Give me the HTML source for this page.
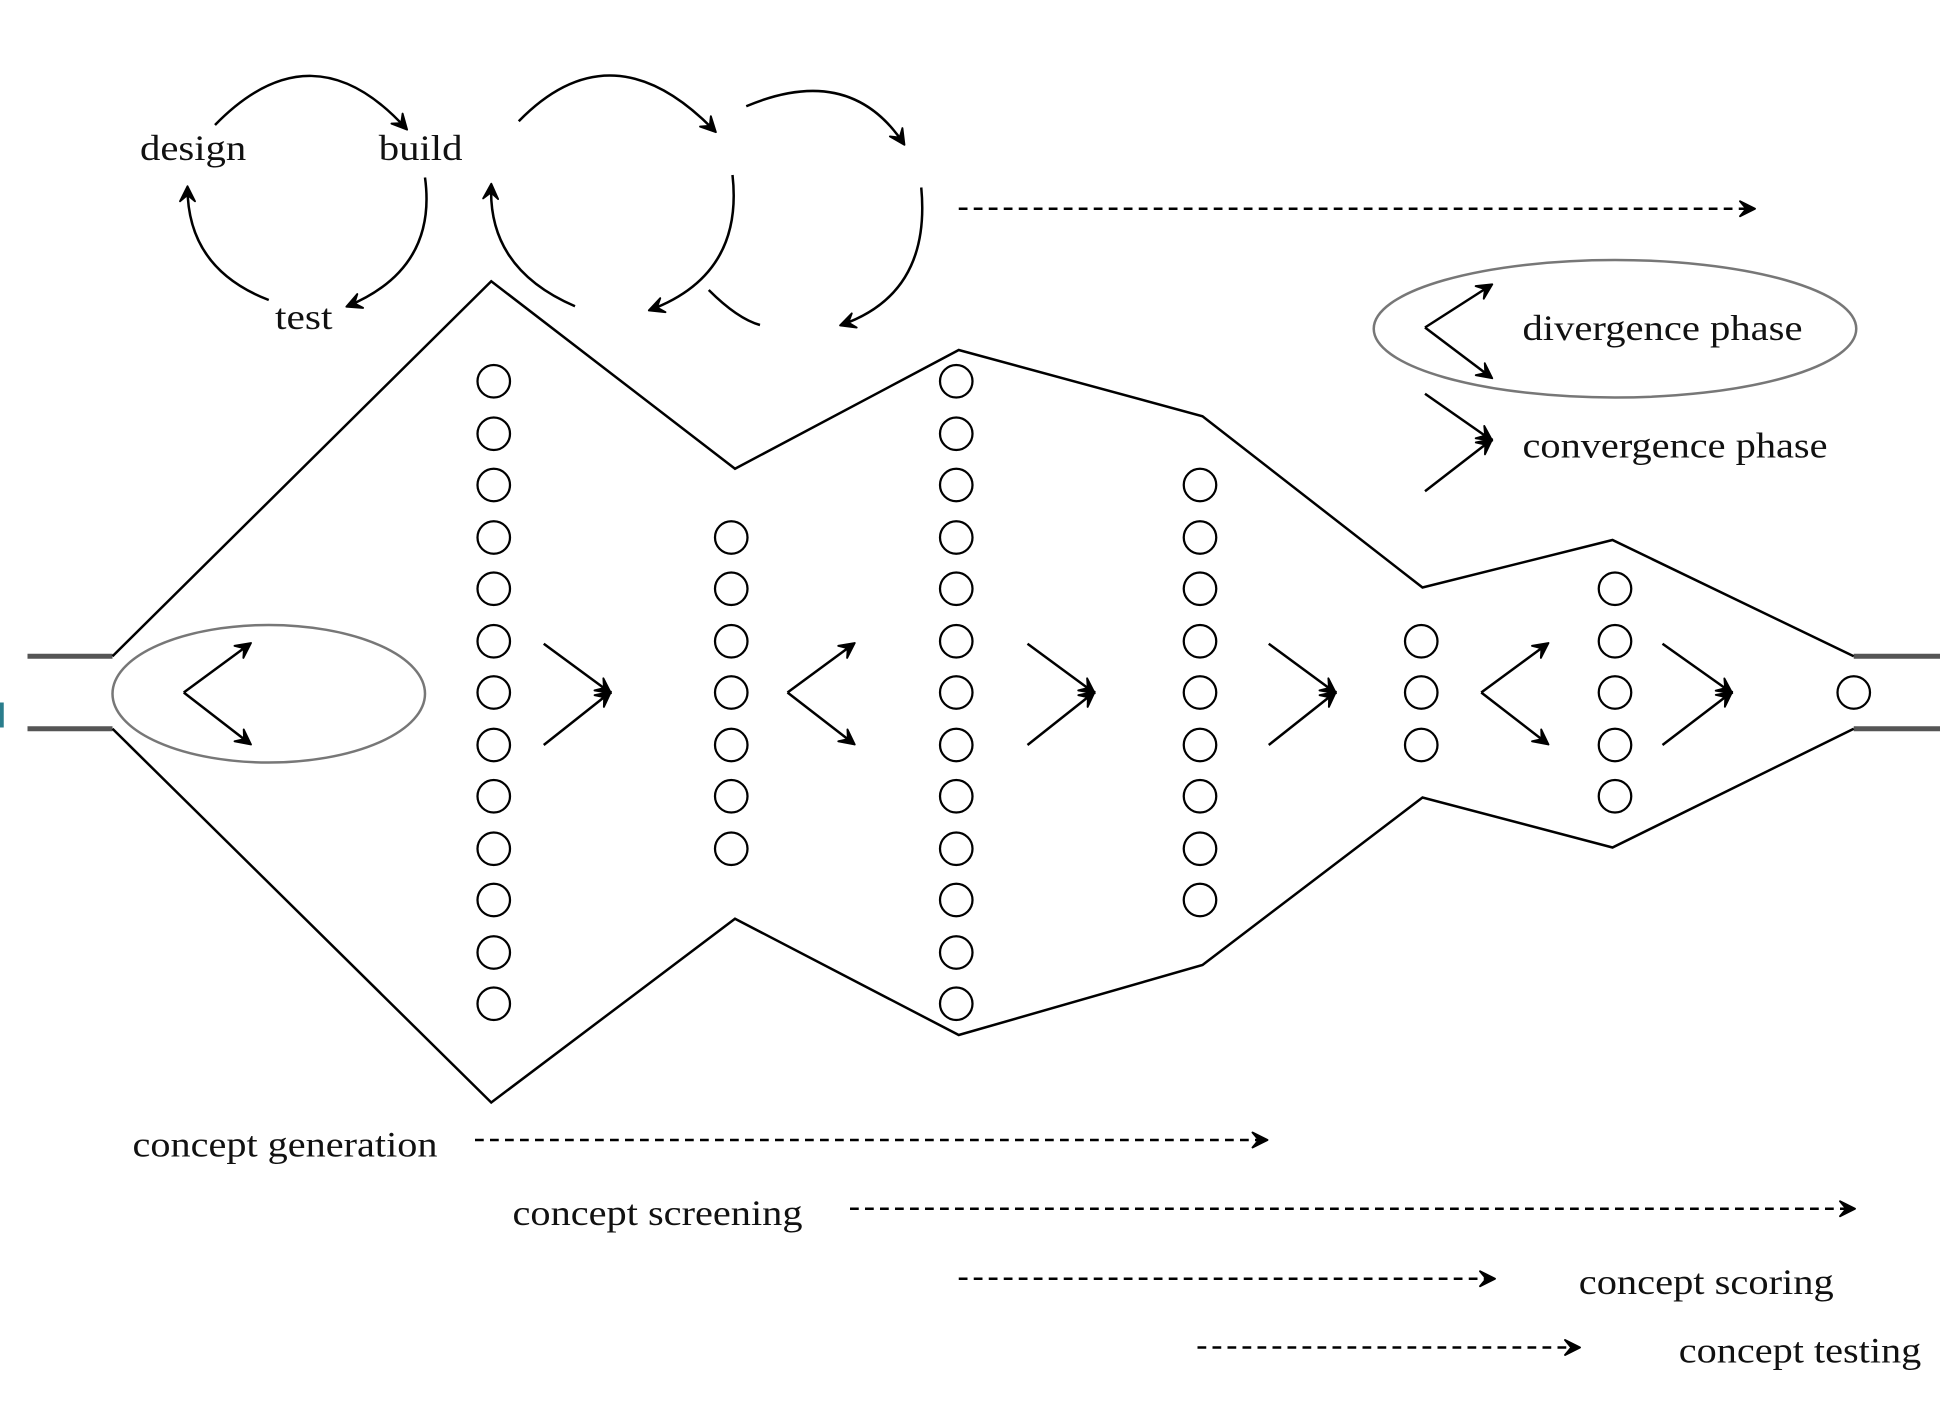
<!DOCTYPE html>
<html><head><meta charset="utf-8"><style>html,body{margin:0;padding:0;background:#fff}svg{display:block}</style></head>
<body>
<svg width="1960" height="1402" viewBox="0 0 1568 1121.6" preserveAspectRatio="none" xmlns="http://www.w3.org/2000/svg" font-family="Liberation Serif, serif">
<defs>
<marker id="a" markerWidth="16" markerHeight="16" refX="12" refY="8" orient="auto" markerUnits="userSpaceOnUse">
<path d="M1,2 L13,8 L1,14 L6,8 Z" fill="#000" stroke="#000" stroke-width="1.5" stroke-linejoin="round"/></marker>
</defs>
<g stroke="#555" stroke-width="4"><line x1="22" y1="525" x2="90" y2="525"/><line x1="22" y1="583" x2="90" y2="583"/><line x1="1483" y1="525" x2="1552" y2="525"/><line x1="1483" y1="583" x2="1552" y2="583"/></g>
<g fill="none" stroke="#000" stroke-width="2">
<polyline points="90,525 393,225 588,375 767,280 962,333 1138,470 1290,432 1483,525"/>
<polyline points="90,583 393,882 588,735 767,828 962,772 1138,638 1290,678 1483,583"/>
</g>
<g fill="none" stroke="#000" stroke-width="1.8">
<circle cx="395" cy="305" r="13"/><circle cx="395" cy="347" r="13"/><circle cx="395" cy="388" r="13"/><circle cx="395" cy="430" r="13"/><circle cx="395" cy="471" r="13"/><circle cx="395" cy="513" r="13"/><circle cx="395" cy="554" r="13"/><circle cx="395" cy="596" r="13"/><circle cx="395" cy="637" r="13"/><circle cx="395" cy="679" r="13"/><circle cx="395" cy="720" r="13"/><circle cx="395" cy="762" r="13"/><circle cx="395" cy="803" r="13"/>
<circle cx="585" cy="430" r="13"/><circle cx="585" cy="471" r="13"/><circle cx="585" cy="513" r="13"/><circle cx="585" cy="554" r="13"/><circle cx="585" cy="596" r="13"/><circle cx="585" cy="637" r="13"/><circle cx="585" cy="679" r="13"/>
<circle cx="765" cy="305" r="13"/><circle cx="765" cy="347" r="13"/><circle cx="765" cy="388" r="13"/><circle cx="765" cy="430" r="13"/><circle cx="765" cy="471" r="13"/><circle cx="765" cy="513" r="13"/><circle cx="765" cy="554" r="13"/><circle cx="765" cy="596" r="13"/><circle cx="765" cy="637" r="13"/><circle cx="765" cy="679" r="13"/><circle cx="765" cy="720" r="13"/><circle cx="765" cy="762" r="13"/><circle cx="765" cy="803" r="13"/>
<circle cx="960" cy="388" r="13"/><circle cx="960" cy="430" r="13"/><circle cx="960" cy="471" r="13"/><circle cx="960" cy="513" r="13"/><circle cx="960" cy="554" r="13"/><circle cx="960" cy="596" r="13"/><circle cx="960" cy="637" r="13"/><circle cx="960" cy="679" r="13"/><circle cx="960" cy="720" r="13"/>
<circle cx="1137" cy="513" r="13"/><circle cx="1137" cy="554" r="13"/><circle cx="1137" cy="596" r="13"/>
<circle cx="1292" cy="471" r="13"/><circle cx="1292" cy="513" r="13"/><circle cx="1292" cy="554" r="13"/><circle cx="1292" cy="596" r="13"/><circle cx="1292" cy="637" r="13"/>
<circle cx="1483" cy="554" r="13"/>
</g>
<g fill="none" stroke="#777" stroke-width="2"><ellipse cx="215" cy="555" rx="125" ry="55"/><ellipse cx="1292" cy="263" rx="193" ry="55"/></g>
<g fill="none" stroke="#000" stroke-width="2" marker-end="url(#a)">
<polyline points="147,554 200,515"/><polyline points="147,554 200,595"/>
<polyline points="630,554 683,515"/><polyline points="630,554 683,595"/>
<polyline points="1185,554 1238,515"/><polyline points="1185,554 1238,595"/>
<line x1="435" y1="515" x2="488" y2="554"/><line x1="435" y1="596" x2="488" y2="554"/>
<line x1="822" y1="515" x2="875" y2="554"/><line x1="822" y1="596" x2="875" y2="554"/>
<line x1="1015" y1="515" x2="1068" y2="554"/><line x1="1015" y1="596" x2="1068" y2="554"/>
<line x1="1330" y1="515" x2="1385" y2="554"/><line x1="1330" y1="596" x2="1385" y2="554"/>
<polyline points="1140,262 1193,228"/><polyline points="1140,262 1193,302"/>
<line x1="1140" y1="315" x2="1193" y2="352"/><line x1="1140" y1="393" x2="1193" y2="352"/>
<path d="M172,100 Q250,20 325,103"/>
<path d="M340,142 Q350,215 278,245"/>
<path d="M215,240 Q150,215 150,150"/>
<path d="M415,97 Q490,20 572,105"/>
<path d="M586,140 Q595,220 520,248"/>
<path d="M460,245 Q390,215 393,148"/>
<path d="M597,85 Q680,50 723,115"/>
<path d="M737,150 Q745,235 673,260"/>
</g>
<path d="M567,232 Q590,255 608,260" fill="none" stroke="#000" stroke-width="2"/>
<g fill="none" stroke="#000" stroke-width="2" stroke-dasharray="7,5" marker-end="url(#a)">
<line x1="767" y1="167" x2="1403" y2="167"/>
<line x1="380" y1="912" x2="1013" y2="912"/>
<line x1="680" y1="967" x2="1483" y2="967"/>
<line x1="767" y1="1023" x2="1195" y2="1023"/>
<line x1="958" y1="1078" x2="1263" y2="1078"/>
</g>
<rect x="0" y="562" width="3" height="20" fill="#2a7d8c"/>
<g font-size="29" fill="#111" lengthAdjust="spacingAndGlyphs">
<text x="112" y="128" textLength="85" lengthAdjust="spacingAndGlyphs">design</text>
<text x="303" y="128" textLength="67" lengthAdjust="spacingAndGlyphs">build</text>
<text x="220" y="263" textLength="46" lengthAdjust="spacingAndGlyphs">test</text>
<text x="1218" y="272" textLength="224" lengthAdjust="spacingAndGlyphs">divergence phase</text>
<text x="1218" y="366" textLength="244" lengthAdjust="spacingAndGlyphs">convergence phase</text>
<text x="106" y="925" textLength="244" lengthAdjust="spacingAndGlyphs">concept generation</text>
<text x="410" y="980" textLength="232" lengthAdjust="spacingAndGlyphs">concept screening</text>
<text x="1263" y="1035" textLength="204" lengthAdjust="spacingAndGlyphs">concept scoring</text>
<text x="1343" y="1090" textLength="194" lengthAdjust="spacingAndGlyphs">concept testing</text>
</g>
</svg>
</body></html>
